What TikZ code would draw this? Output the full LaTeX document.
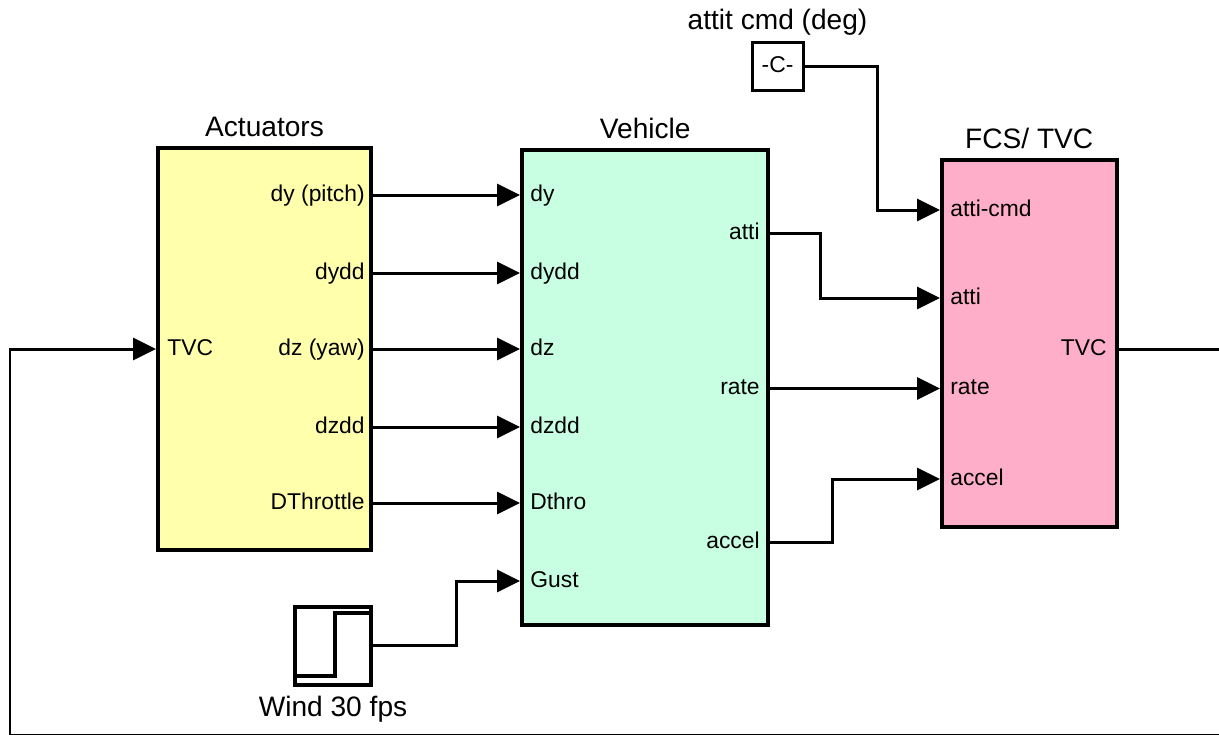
\documentclass[tikz,border=0pt]{standalone}
\usepackage{fontspec}
\setmainfont{Liberation Sans}
\usetikzlibrary{arrows.meta,positioning}
\definecolor{actyellow}{RGB}{255,255,172}
\definecolor{vehgreen}{RGB}{200,255,226}
\definecolor{fcspink}{RGB}{255,174,202}

\begin{document}
\begin{tikzpicture}[x=0.02cm,y=-0.02cm,>={Triangle[length=0.46cm,width=0.44cm]},
  block/.style={draw,line width=0.08cm,inner sep=0pt},
  title/.style={font=\fontsize{16}{19}\selectfont,inner sep=0pt},
  port/.style={font=\fontsize{13}{15}\selectfont,inner sep=0pt,text height=0.72em,text depth=0pt},
  sig/.style={->,line width=0.06cm}]

  \useasboundingbox (0,0) rectangle (1219,734);
  \clip (0,0) rectangle (1219,734);

  \node[block,fill=actyellow,minimum width=4.26cm,minimum height=8.06cm] (act) at (264.5,349) {};
  \node[block,fill=vehgreen,minimum width=4.93cm,minimum height=9.51cm] (veh) at (645.25,387.75) {};
  \node[block,fill=fcspink,minimum width=3.49cm,minimum height=7.34cm] (fcs) at (1029.25,343.5) {};
  \node[block,line width=0.06cm,minimum width=1.02cm,minimum height=0.98cm,port] (cst) at (777.5,66.5) {-C-};
  \node[block,minimum width=1.53cm,minimum height=1.56cm] (stp) at (333,645.5) {};

  \node[title,above=5pt of act] (act-t) {Actuators};
  \node[title,above=5pt of veh] (veh-t) {Vehicle};
  \node[title,above=5pt of fcs] (fcs-t) {FCS/ TVC};
  \node[title,above=3pt of cst] (cst-t) {attit cmd (deg)};
  \node[title,below=5pt of stp] (stp-t) {Wind 30 fps};

  \draw[line width=0.08cm] (297,676) -- (335,676) -- (335,613) -- (369,613);

  \node[port,anchor=west] (a-tvc) at (167,349) {TVC};
  \node[port,anchor=east] (a-dy) at (365,195) {dy (pitch)};
  \node[port,anchor=east] (a-dydd) at (365,273) {dydd};
  \node[port,anchor=east] (a-dz) at (365,349) {dz (yaw)};
  \node[port,anchor=east] (a-dzdd) at (365,427) {dzdd};
  \node[port,anchor=east] (a-dthr) at (365,503) {DThrottle};

  \node[port,anchor=west] (v-dy) at (530,195) {dy};
  \node[port,anchor=west] (v-dydd) at (530,273) {dydd};
  \node[port,anchor=west] (v-dz) at (530,349) {dz};
  \node[port,anchor=west] (v-dzdd) at (530,427) {dzdd};
  \node[port,anchor=west] (v-dthr) at (530,503) {Dthro};
  \node[port,anchor=west] (v-gust) at (530,581) {Gust};
  \node[port,anchor=east] (v-atti) at (760,233) {atti};
  \node[port,anchor=east] (v-rate) at (760,388.5) {rate};
  \node[port,anchor=east] (v-acc) at (760,542) {accel};

  \node[port,anchor=west] (f-cmd) at (950,210) {atti-cmd};
  \node[port,anchor=west] (f-atti) at (950,298) {atti};
  \node[port,anchor=west] (f-rate) at (950,388.5) {rate};
  \node[port,anchor=west] (f-acc) at (950,479) {accel};
  \node[port,anchor=east] (f-tvc) at (1107,349) {TVC};

  \coordinate (b-cmd) at (877,0);
  \coordinate (b-atti) at (820,0);
  \coordinate (b-acc) at (832,0);
  \coordinate (b-gust) at (456,0);
  \coordinate (fb-r) at (1228,735);
  \coordinate (fb-l) at (10,735);

  \draw[sig] (a-dy -| act.east) -- (v-dy -| veh.west);
  \draw[sig] (a-dydd -| act.east) -- (v-dydd -| veh.west);
  \draw[sig] (a-dz -| act.east) -- (v-dz -| veh.west);
  \draw[sig] (a-dzdd -| act.east) -- (v-dzdd -| veh.west);
  \draw[sig] (a-dthr -| act.east) -- (v-dthr -| veh.west);
  \draw[sig] (stp.east) -| (b-gust |- v-gust) -- (v-gust -| veh.west);

  \draw[sig] (cst.east) -| (b-cmd |- f-cmd) -- (f-cmd -| fcs.west);
  \draw[sig] (v-atti -| veh.east) -| (b-atti |- f-atti) -- (f-atti -| fcs.west);
  \draw[sig] (v-rate -| veh.east) -- (f-rate -| fcs.west);
  \draw[sig] (v-acc -| veh.east) -| (b-acc |- f-acc) -- (f-acc -| fcs.west);

  \draw[sig] (f-tvc -| fcs.east) -| (fb-r) -| (fb-l |- a-tvc) -- (a-tvc -| act.west);

\end{tikzpicture}
\end{document}
